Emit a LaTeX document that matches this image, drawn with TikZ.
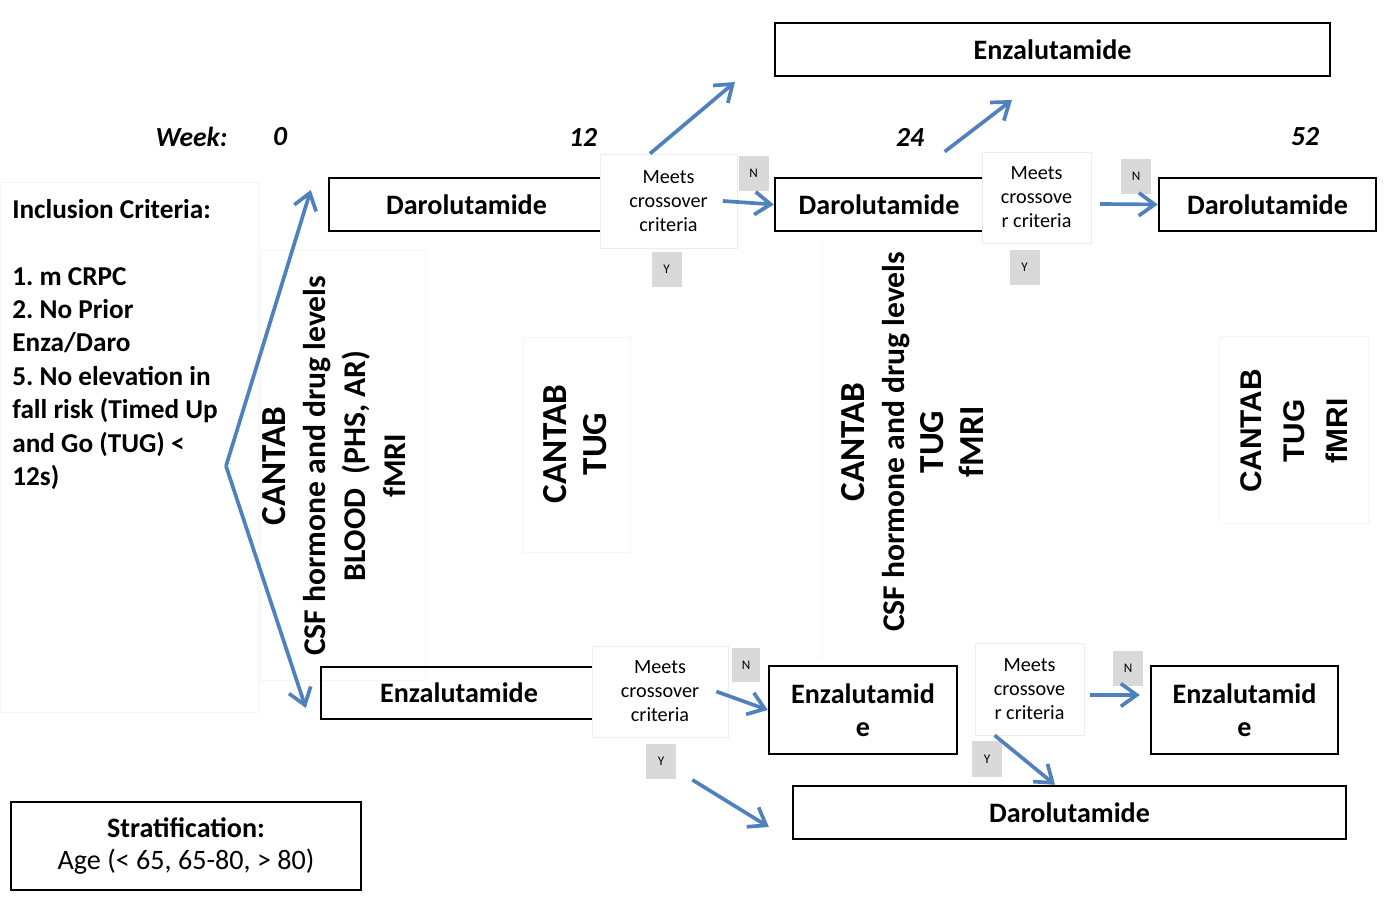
\documentclass[tikz,border=0pt]{standalone}
\usepackage{fontspec}
\setmainfont{Carlito}
\newfontfamily\arial{Liberation Sans}
\usetikzlibrary{arrows.meta}
\definecolor{azul}{RGB}{79,129,189}
\definecolor{cinza}{RGB}{217,217,217}
\tikzset{
  seta/.style={-{Straight Barb[length=9pt,width=13pt]}, azul, line width=2.1pt},
  fraco/.style={draw=black!4, line width=0.5pt},
}
\frenchspacing

\begin{document}
\begin{tikzpicture}[
    x=0.02cm, y=-0.02cm,
    caixa/.style={
        draw,
        line width=1.4pt,
        inner sep=0pt,
        minimum height=1.06cm,
        align=center,
        font=\fontsize{16}{18.8}\selectfont\bfseries
    },
    decisao/.style={
        draw=black!7,
        fill=white,
        inner sep=0pt,
        align=center,
        font=\fontsize{11.5}{13.7}\selectfont
    },
    rotulo/.style={
        fill=cinza,
        inner sep=0pt,
        minimum width=0.6cm,
        minimum height=0.72cm,
        font=\fontsize{7.5}{9}\selectfont
    },
    exames/.style={
        rotate=90,
        align=center,
        font=\fontsize{18}{22.7}\selectfont\bfseries
    },
    semana/.style={
        font=\fontsize{15.7}{18}\selectfont\bfseries\itshape
    }
]
\useasboundingbox (0,0) rectangle (1394,902);

\draw[fraco] (0,182) rectangle (258,712);
\draw[fraco] (260,250) rectangle (425,680);
\draw[fraco] (523,337) rectangle (630,552);
\draw[fraco] (822,240) -- (822,660);
\draw[fraco] (1219,336) rectangle (1368,523);

\node[semana] (wk) at (191.5,137) {Week:};
\node[semana] (w0) at (280,137) {0};
\node[semana] (w12) at (583,137) {12};
\node[semana] (w24) at (910,137) {24};
\node[semana] (w52) at (1305,137) {52};

\node[anchor=north west, inner sep=0pt, align=left,
      font=\fontsize{15.5}{19}\selectfont\bfseries] (incl) at (12,199)
{Inclusion Criteria:\\[19pt]
1. m CRPC\\
2. No Prior\\
Enza/Daro\\
5. No elevation in\\
fall risk (Timed Up\\
and Go (TUG) <\\
12s)};

\node[caixa, minimum width=5.5cm] (daro1) at (466.5,204.5) {Darolutamide};
\node[caixa, minimum width=11.1cm] (enztop) at (1052.5,49.5) {Enzalutamide};
\node[caixa, minimum width=4.16cm] (daro2) at (879,204.5) {Darolutamide};
\node[caixa, minimum width=4.34cm] (daro3) at (1267.5,204.5) {Darolutamide};

\node[decisao, minimum width=2.74cm, minimum height=1.88cm] (dec1) at (668.5,201)
{Meets\\crossover\\criteria};
\node[rotulo] (n1) at (753.5,173.5) {N};
\node[rotulo] (y1) at (666.5,269.5) {Y};

\node[decisao, minimum width=2.18cm, minimum height=1.82cm] (dec2) at (1036.5,197.5)
{Meets\\crossove\\r criteria};
\node[rotulo] (n2) at (1136,176.5) {N};
\node[rotulo] (y2) at (1024.5,267.5) {Y};

\node[caixa, minimum width=5.52cm, minimum height=1.04cm] (enz1) at (459,693) {Enzalutamide};
\node[caixa, minimum width=3.76cm, minimum height=1.76cm] (enz2) at (863,710) {Enzalutamid\\e};
\node[caixa, minimum width=3.74cm, minimum height=1.76cm] (enz3) at (1244.5,710) {Enzalutamid\\e};
\node[caixa, minimum width=11.06cm] (daro4) at (1069.5,812.5) {Darolutamide};

\node[decisao, minimum width=2.72cm, minimum height=1.82cm] (dec3) at (660,691.5)
{Meets\\crossover\\criteria};
\node[rotulo, minimum width=0.56cm, minimum height=0.68cm] (n3) at (746,665) {N};
\node[rotulo] (y3) at (661,761.5) {Y};

\node[decisao, minimum width=2.18cm, minimum height=1.84cm] (dec4) at (1029.5,689)
{Meets\\crossove\\r criteria};
\node[rotulo] (n4) at (1128,668.5) {N};
\node[rotulo] (y4) at (987,759) {Y};

\node[caixa, minimum width=7cm, minimum height=1.76cm,
      font=\fontsize{16}{18.2}\selectfont] (strat) at (186,846)
{\textbf{Stratification:}\\Age (< 65, 65-80, > 80)};

\node[exames] (bloco0) at (334,466)
{{\fontsize{20}{22.7}\selectfont CANTAB}\\
CSF hormone and drug levels\\
BLOOD\ \ (PHS, AR)\\
fMRI};
\node[exames, font=\fontsize{20}{22.7}\selectfont\bfseries] (bloco12) at (575,444)
{CANTAB\\TUG};
\node[exames] (bloco24) at (912.5,442)
{{\fontsize{20}{22.7}\selectfont CANTAB}\\
CSF hormone and drug levels\\
{\fontsize{20}{22.7}\selectfont TUG}\\
{\fontsize{20}{22.7}\selectfont fMRI}};
\node[exames, font=\arial\bfseries\fontsize{17}{24.5}\selectfont] (bloco52) at (1294.5,431)
{CANTAB\\TUG\\fMRI};

\coordinate (v) at (226,466);
\coordinate (t1) at (735,82);
\coordinate (t2) at (1012,100);

\draw[seta] (v) -- ([xshift=-0.34cm,yshift=0.29cm]daro1.west);
\draw[seta] (v) -- ([xshift=-0.28cm,yshift=-0.3cm]enz1.west);
\draw[seta] ([xshift=-0.37cm]dec1.north) -- (t1);
\draw[seta] ([xshift=-0.74cm]dec2.north west) -- (t2);
\draw[seta] ([xshift=-0.29cm]dec1.east) -- (daro2.west);
\draw[seta] ([xshift=0.17cm,yshift=-0.13cm]dec2.east) -- (daro3.west);
\draw[seta] ([xshift=-0.24cm]dec3.east) -- (enz2.west);
\draw[seta, shorten >=0.2cm] ([xshift=0.11cm,yshift=-0.12cm]dec4.east) -- ([yshift=0.3cm]enz3.west);
\draw[seta] ([xshift=0.32cm]y3.south east) -- ([xshift=-0.46cm,yshift=-0.29cm]daro4.west);
\draw[seta] ([xshift=0.4cm]dec4.south west) -- ([xshift=-0.29cm]daro4.north);

\end{tikzpicture}
\end{document}
